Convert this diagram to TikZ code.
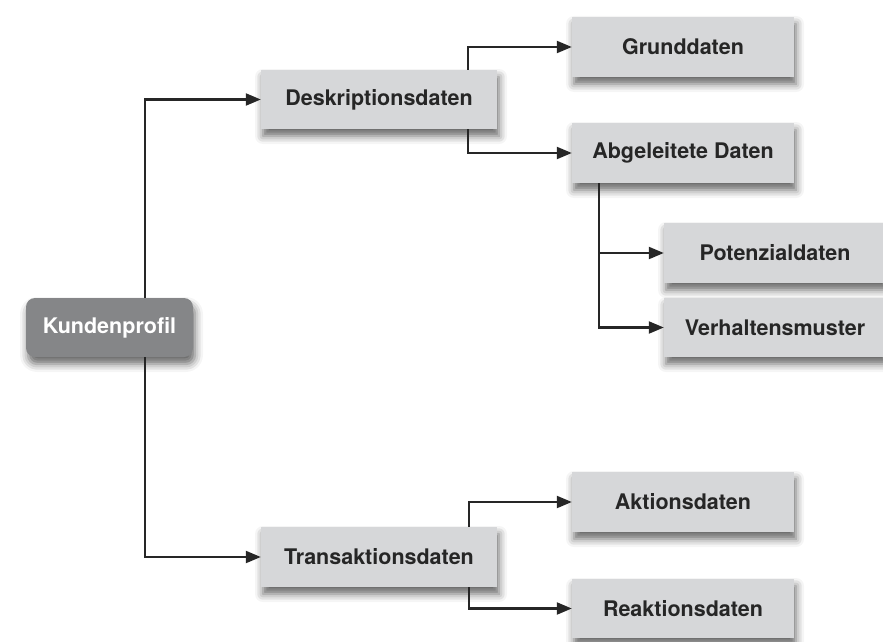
\documentclass[tikz,border=0pt]{standalone}
\usepackage{fontspec}
\setmainfont{TeX Gyre Heros}
\usetikzlibrary{arrows.meta,shadows.blur}
\definecolor{boxgray}{HTML}{D6D7D9}
\definecolor{rootgray}{HTML}{858688}
\definecolor{txtgray}{HTML}{262626}
\begin{document}
\begin{tikzpicture}[x=1pt,y=-1pt,
	box/.style={fill=boxgray,text=txtgray,minimum width=222pt,minimum height=60pt,inner sep=0pt,
		font=\fontsize{21.5}{25}\selectfont\bfseries,
		blur shadow={shadow xshift=2pt,shadow yshift=-7pt,shadow blur radius=8pt,shadow opacity=60}},
	root/.style={box,fill=rootgray,text=white,rounded corners=9pt,minimum width=167pt,minimum height=59pt},
	link/.style={line width=2.2pt,draw=txtgray,-{Triangle[length=15pt,width=12pt]}}]
	\useasboundingbox (0,0) rectangle (883,642);

	\node[root] (kunde) at (109.5,327.5) {Kundenprofil};
	\node[box,minimum width=236pt,minimum height=59pt] (deskr) at (379,99.5) {Deskriptionsdaten};
	\node[box,minimum width=236pt] (trans) at (379,557) {Transaktionsdaten};
	\node[box] (grund) at (683,47) {Grunddaten};
	\node[box] (abgel) at (683,153) {Abgeleitete Daten};
	\node[box] (poten) at (775,253) {Potenzialdaten};
	\node[box,minimum height=59pt] (verh) at (775,327.5) {Verhaltensmuster};
	\node[box] (aktion) at (683,502) {Aktionsdaten};
	\node[box,minimum height=59pt] (reakt) at (683,608.5) {Reaktionsdaten};

	\draw[link] ([xshift=35.5pt]kunde.north) |- (deskr.west);
	\draw[link] ([xshift=35.5pt]kunde.south) |- (trans.west);
	\draw[link] ([xshift=-29pt]deskr.north east) |- (grund.west);
	\draw[link] ([xshift=-29pt]deskr.south east) |- (abgel.west);
	\draw[link] ([xshift=27pt]abgel.south west) |- (poten.west);
	\draw[link] ([xshift=27pt]abgel.south west) |- (verh.west);
	\draw[link] ([xshift=-28pt]trans.north east) |- (aktion.west);
	\draw[link] ([xshift=-28pt]trans.south east) |- (reakt.west);
\end{tikzpicture}
\end{document}
